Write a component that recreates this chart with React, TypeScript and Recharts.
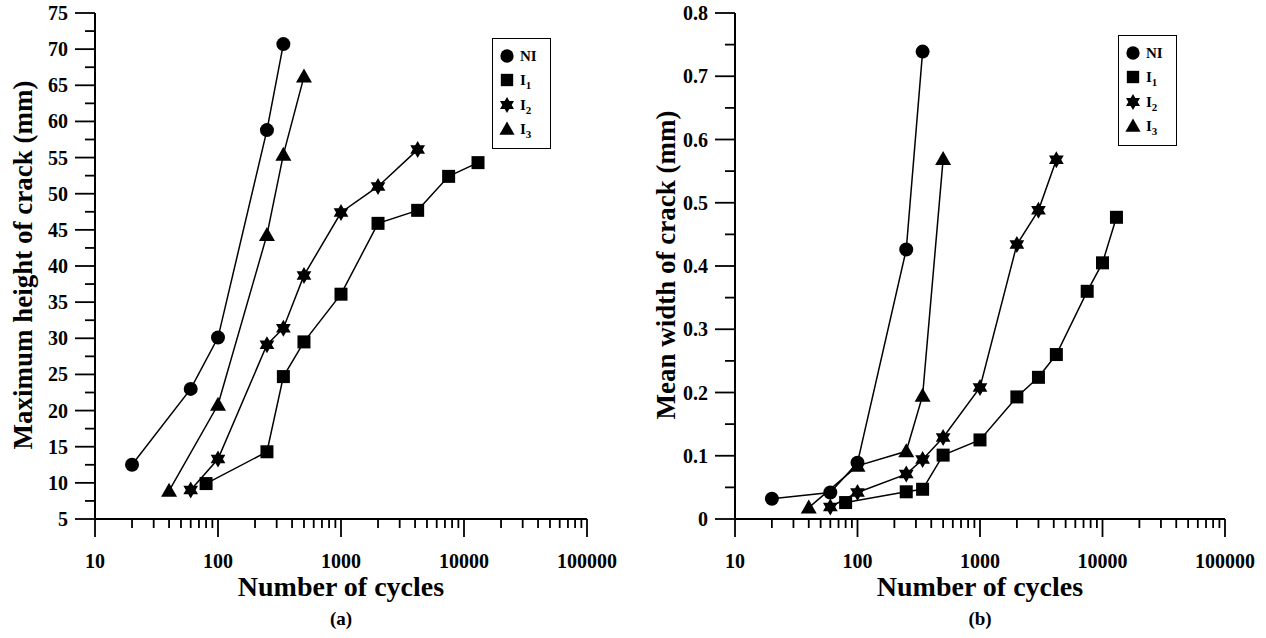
import React from 'react';
import { LineChart, Line, XAxis, YAxis } from 'recharts';

// ---------- data ----------
const cyclesNI = [20, 60, 100, 250, 340];
const cyclesI1a = [80, 250, 340, 500, 1000, 2000, 4200, 7500, 13000];
const cyclesI2a = [60, 100, 250, 340, 500, 1000, 2000, 4200];
const cyclesI3 = [40, 100, 250, 340, 500];
const cyclesI1b = [80, 250, 340, 500, 1000, 2000, 3000, 4200, 7500, 10000, 13000];
const cyclesI2b = [60, 100, 250, 340, 500, 1000, 2000, 3000, 4200];

const heightNI = [12.5, 23.0, 30.1, 58.8, 70.7];
const heightI1 = [9.9, 14.3, 24.7, 29.5, 36.1, 45.9, 47.7, 52.4, 54.3];
const heightI2 = [9.0, 13.3, 29.1, 31.4, 38.7, 47.4, 51.0, 56.1];
const heightI3 = [8.9, 20.8, 44.3, 55.4, 66.2];

const widthNI = [0.032, 0.042, 0.089, 0.426, 0.739];
const widthI1 = [0.026, 0.043, 0.047, 0.101, 0.125, 0.193, 0.224, 0.26, 0.36, 0.405, 0.477];
const widthI2 = [0.019, 0.042, 0.071, 0.094, 0.129, 0.208, 0.434, 0.488, 0.568];
const widthI3 = [0.018, 0.084, 0.107, 0.195, 0.569];

const xMajorTicks = [10, 100, 1000, 10000, 100000];
const xMinorTicks = [20, 30, 40, 50, 60, 70, 80, 90, 200, 300, 400, 500, 600, 700, 800, 900, 2000, 3000, 4000, 5000, 6000, 7000, 8000, 9000, 20000, 30000, 40000, 50000, 60000, 70000, 80000, 90000];
const yMajorTicksA = [5, 10, 15, 20, 25, 30, 35, 40, 45, 50, 55, 60, 65, 70, 75];
const yMinorTicksA = [7.5, 12.5, 17.5, 22.5, 27.5, 32.5, 37.5, 42.5, 47.5, 52.5, 57.5, 62.5, 67.5, 72.5];
const yMajorTicksB = [0, 0.1, 0.2, 0.3, 0.4, 0.5, 0.6, 0.7, 0.8];
const yMinorTicksB = [0.05, 0.15, 0.25, 0.35, 0.45, 0.55, 0.65, 0.75];
const yLabelsB = ['0', '0.1', '0.2', '0.3', '0.4', '0.5', '0.6', '0.7', '0.8'];

const seriesNames = ['NI', 'I', 'I', 'I'];
const seriesSubs = ['', '1', '2', '3'];
const seriesShapes = ['circle', 'square', 'star', 'triangle'];

const zip = (xs: number[], ys: number[]) => xs.map((x, i) => ({ x, y: ys[i] }));

const FONT = '"Liberation Serif", "Times New Roman", serif';
const MAJOR_LEN = 18;
const MINOR_LEN = 9;

// ---------- markers ----------
function Marker({ shape, cx, cy, s = 1 }: { shape: string; cx: number; cy: number; s?: number }) {
  if (shape === 'circle') return <circle cx={cx} cy={cy} r={7 * s} fill="#000" />;
  if (shape === 'square') return <rect x={cx - 6.5 * s} y={cy - 6.5 * s} width={13 * s} height={13 * s} fill="#000" />;
  if (shape === 'triangle') {
    const pts = [
      [cx, cy - 8 * s],
      [cx - 8 * s, cy + 6 * s],
      [cx + 8 * s, cy + 6 * s],
    ];
    return <polygon points={pts.map((p) => p.join(',')).join(' ')} fill="#000" />;
  }
  // six-pointed star
  const R = 8.5 * s;
  const r = R / Math.sqrt(3);
  const pts: string[] = [];
  for (let k = 0; k < 12; k++) {
    const a = ((-90 + 30 * k) * Math.PI) / 180;
    const rad = k % 2 === 0 ? R : r;
    pts.push(`${cx + rad * Math.cos(a)},${cy + rad * Math.sin(a)}`);
  }
  return <polygon points={pts.join(' ')} fill="#000" />;
}

const makeDot = (shape: string) => (props: any) => {
  const { cx, cy, index } = props;
  if (cx == null || cy == null) return <g key={index} />;
  return <Marker key={index} shape={shape} cx={cx} cy={cy} />;
};

// ---------- ticks ----------
const isMajorX = (v: number) => xMajorTicks.includes(v);

const XBottomTick = (props: any) => {
  const { x, y, payload } = props;
  const major = isMajorX(payload.value);
  return (
    <g>
      <line x1={x} x2={x} y1={y} y2={y + (major ? MAJOR_LEN : MINOR_LEN)} stroke="#000" strokeWidth={1.8} />
      {major && (
        <text x={x} y={y + 49} textAnchor="middle" fontFamily={FONT} fontWeight="bold" fontSize={20} fill="#000">
          {payload.value}
        </text>
      )}
    </g>
  );
};

const XTopTick = (props: any) => {
  const { x, y, payload } = props;
  const major = isMajorX(payload.value);
  return <line x1={x} x2={x} y1={y} y2={y + (major ? MAJOR_LEN : MINOR_LEN)} stroke="#000" strokeWidth={1.8} />;
};

const makeYLeftTick = (majors: number[], labels: string[] | null) => (props: any) => {
  const { x, y, payload } = props;
  const idx = majors.indexOf(payload.value);
  const major = idx >= 0;
  return (
    <g>
      <line x1={x - (major ? MAJOR_LEN + 2 : MINOR_LEN + 1)} x2={x} y1={y} y2={y} stroke="#000" strokeWidth={1.8} />
      {major && (
        <text x={x - 27} y={y} dy="0.35em" textAnchor="end" fontFamily={FONT} fontWeight="bold" fontSize={20} fill="#000">
          {labels ? labels[idx] : payload.value}
        </text>
      )}
    </g>
  );
};

const makeYRightTick = (majors: number[]) => (props: any) => {
  const { x, y, payload } = props;
  const major = majors.includes(payload.value);
  return <line x1={x - (major ? MAJOR_LEN : MINOR_LEN)} x2={x} y1={y} y2={y} stroke="#000" strokeWidth={1.8} />;
};

// ---------- panel ----------
type Panel = {
  left: number;
  marginRight: number;
  series: { x: number; y: number }[][];
  yDomain: [number, number];
  yMajors: number[];
  yMinors: number[];
  yLabels: string[] | null;
};

function PanelChart({ p }: { p: Panel }) {
  const allX = [...xMajorTicks, ...xMinorTicks].sort((a, b) => a - b);
  const allY = [...p.yMajors, ...p.yMinors].sort((a, b) => a - b);
  const axisLine = { stroke: '#000', strokeWidth: 2 };
  return (
    <div style={{ position: 'absolute', left: p.left, top: 0 }}>
      <LineChart width={620} height={638} margin={{ top: 13, right: p.marginRight, bottom: 0, left: 0 }}>
        <XAxis
          dataKey="x"
          type="number"
          scale="log"
          domain={[10, 100000]}
          allowDataOverflow
          ticks={allX}
          interval={0}
          tick={<XBottomTick />}
          tickLine={false}
          tickSize={0}
          tickMargin={0}
          axisLine={axisLine}
          height={119}
        />
        <XAxis
          xAxisId="top"
          orientation="top"
          type="number"
          scale="log"
          domain={[10, 100000]}
          allowDataOverflow
          ticks={allX}
          interval={0}
          tick={<XTopTick />}
          tickLine={false}
          tickSize={0}
          tickMargin={0}
          axisLine={axisLine}
          height={0}
        />
        <YAxis
          type="number"
          domain={p.yDomain}
          allowDataOverflow
          ticks={allY}
          interval={0}
          tick={makeYLeftTick(p.yMajors, p.yLabels)}
          tickLine={false}
          tickSize={0}
          tickMargin={0}
          axisLine={axisLine}
          width={95}
        />
        <YAxis
          yAxisId="right"
          orientation="right"
          type="number"
          domain={p.yDomain}
          allowDataOverflow
          ticks={allY}
          interval={0}
          tick={makeYRightTick(p.yMajors)}
          tickLine={false}
          tickSize={0}
          tickMargin={0}
          axisLine={axisLine}
          width={0}
        />
        {p.series.map((d, i) => (
          <Line
            key={i}
            data={d}
            dataKey="y"
            type="linear"
            stroke="#000"
            strokeWidth={1.5}
            dot={makeDot(seriesShapes[i])}
            activeDot={false}
            isAnimationActive={false}
            legendType="none"
          />
        ))}
      </LineChart>
    </div>
  );
}

function LegendBox({ left, top }: { left: number; top: number }) {
  const rows = [18, 42, 67, 91];
  return (
    <svg style={{ position: 'absolute', left, top }} width={60} height={112}>
      <rect x={0.5} y={0.5} width={58} height={110} fill="#fff" stroke="#000" strokeWidth={1} />
      {rows.map((ry, i) => (
        <g key={i}>
          <Marker shape={seriesShapes[i]} cx={15} cy={ry} s={0.95} />
          <text x={28} y={ry + 5} fontFamily={FONT} fontWeight="bold" fontSize={15} fill="#000">
            {seriesNames[i]}
            {seriesSubs[i] && (
              <tspan dy={4} fontSize={11}>
                {seriesSubs[i]}
              </tspan>
            )}
          </text>
        </g>
      ))}
    </svg>
  );
}

export default function App() {
  const panelA: Panel = {
    left: 0,
    marginRight: 33,
    series: [zip(cyclesNI, heightNI), zip(cyclesI1a, heightI1), zip(cyclesI2a, heightI2), zip(cyclesI3, heightI3)],
    yDomain: [5, 75],
    yMajors: yMajorTicksA,
    yMinors: yMinorTicksA,
    yLabels: null,
  };
  const panelB: Panel = {
    left: 640,
    marginRight: 35,
    series: [zip(cyclesNI, widthNI), zip(cyclesI1b, widthI1), zip(cyclesI2b, widthI2), zip(cyclesI3, widthI3)],
    yDomain: [0, 0.8],
    yMajors: yMajorTicksB,
    yMinors: yMinorTicksB,
    yLabels: yLabelsB,
  };
  const titleStyle = { fontFamily: FONT, fontWeight: 'bold' as const, fill: '#000' };
  return (
    <div style={{ position: 'absolute', left: 0, top: 0, width: 1266, height: 638, background: '#fff', overflow: 'hidden' }}>
      <PanelChart p={panelA} />
      <PanelChart p={panelB} />
      <svg style={{ position: 'absolute', left: 0, top: 0, pointerEvents: 'none' }} width={1266} height={638}>
        <text x={32} y={265} transform="rotate(-90 32 265)" textAnchor="middle" fontSize={27} {...titleStyle}>
          Maximum height of crack (mm)
        </text>
        <text x={675} y={265} transform="rotate(-90 675 265)" textAnchor="middle" fontSize={27} {...titleStyle}>
          Mean width of crack (mm)
        </text>
        <text x={341} y={596} textAnchor="middle" fontSize={28} {...titleStyle}>
          Number of cycles
        </text>
        <text x={980} y={596} textAnchor="middle" fontSize={28} {...titleStyle}>
          Number of cycles
        </text>
        <text x={341} y={625} textAnchor="middle" fontSize={19} {...titleStyle}>
          (a)
        </text>
        <text x={980} y={625} textAnchor="middle" fontSize={19} {...titleStyle}>
          (b)
        </text>
      </svg>
      <LegendBox left={492} top={38} />
      <LegendBox left={1118} top={35} />
    </div>
  );
}
